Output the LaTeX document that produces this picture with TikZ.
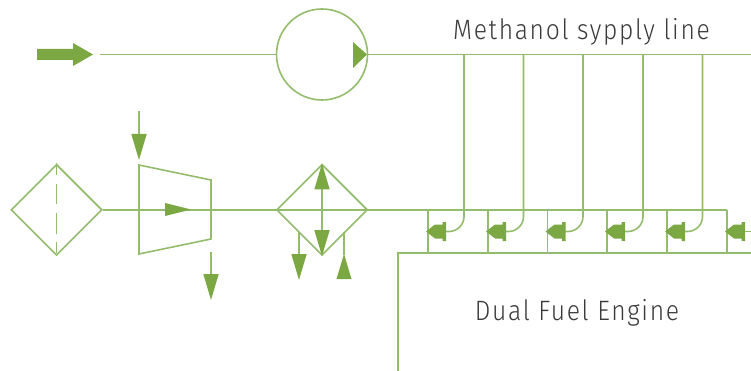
\documentclass[tikz,border=0pt]{standalone}
\usepackage{fontspec}
\usepackage{xcolor}
\setmainfont[LetterSpace=6,FakeStretch=0.88]{Fira Sans Light}
\usetikzlibrary{arrows.meta,shapes.geometric}
\definecolor{pipe}{HTML}{93BC6C}
\definecolor{tipfill}{HTML}{7CA843}
\definecolor{labeltext}{HTML}{3A3A3A}
\tikzset{
	pipeline/.style={draw=pipe,line width=1.6pt},
	flowarrow/.style={pipeline,-{Triangle[length=26pt,width=15pt,fill=tipfill,color=tipfill]}},
	cooler/.style={diamond,draw=pipe,line width=1.6pt,minimum width=91pt,minimum height=91pt,inner sep=0pt,aspect=1},
	pumpcircle/.style={circle,draw=pipe,line width=1.6pt,minimum size=91pt,inner sep=0pt},
	caption/.style={text=labeltext,font=\fontsize{28}{30}\selectfont,inner sep=0pt}
}
\begin{document}
\begin{tikzpicture}[x=1pt,y=-1pt]
	\useasboundingbox (0,0) rectangle (751,371);

	\node[cooler] (filter) at (56.5,209.8) {};
	\node[cooler] (exchanger) at (322,209.8) {};
	\node[pumpcircle] (pump) at (322,54.5) {};
	\node[caption] (supplylabel) at (581.5,32) {Methanol sypply line};
	\node[caption] (enginelabel) at (577,313) {Dual Fuel Engine};

	\coordinate (inlet) at (100,54.5);
	\coordinate (supplyend) at (751,54.5);
	\coordinate (railend) at (727,209.8);
	\coordinate (blockleft) at (398,253);
	\coordinate (blockright) at (751,253);
	\coordinate (blockbottom) at (398,371);

	% supply arrow and lines
	\fill[tipfill] (37,49) -- (73,49) -- (73,43) -- (93,54.5) -- (73,66) -- (73,60) -- (37,60) -- cycle;
	\draw[pipeline] (inlet) -- (pump.west);
	\draw[pipeline] (pump.east) -- (supplyend);
	\fill[tipfill] (353,42) -- (367,54.5) -- (353,68) -- cycle;

	% compressor
	\coordinate (compA) at (139,165);
	\coordinate (compB) at (211,180);
	\coordinate (compC) at (211,239);
	\coordinate (compD) at (139,254);
	\draw[pipeline] (compA) -- (compB) -- (compC) -- (compD) -- cycle;
	\draw[pipeline] (filter.east) -- (exchanger.west);
	\draw[pipeline] (exchanger.west) -- (exchanger.east);
	\draw[pipeline] (exchanger.east) -- (railend);
	\fill[tipfill] (165,203) -- (191,209.5) -- (165,216) -- cycle;
	\draw[pipeline,dash pattern=on 12pt off 9pt on 20pt off 9pt on 20pt off 8pt on 11pt] (filter.north) -- (filter.south);

	\coordinate (compin) at (139,111);
	\coordinate (compintip) at (139,160);
	\coordinate (compout) at (211,252);
	\coordinate (compouttip) at (211,300);
	\draw[flowarrow] (compin) -- (compintip);
	\draw[flowarrow] (compout) -- (compouttip);

	% exchanger arrows
	\draw[flowarrow] (exchanger.center) -- (exchanger.north);
	\draw[flowarrow] (exchanger.center) -- (exchanger.south);
	\coordinate (coolout) at (299,232);
	\coordinate (cooloutip) at (299,280);
	\coordinate (coolin) at (344,232);
	\coordinate (coolintip) at (344,279);
	\draw[flowarrow] (coolout) -- (cooloutip);
	\draw[pipeline] (coolin) -- (344,255);
	\fill[tipfill] (336.5,279) -- (344,254) -- (351.5,279) -- cycle;

	% engine block
	\draw[pipeline] (blockright) -- (blockleft) -- (blockbottom);

	% fuel branches
	\foreach \n/\x in {1/464,2/523.5,3/583,4/643,5/702.5}{
		\coordinate (tap\n) at (\x,54.5);
		\draw[pipeline,rounded corners=15pt] (tap\n) -- (\x,231.5) -- (\x-18,231.5);
	}
	\coordinate (lastvalve) at (745,231.5);
	\coordinate (lastend) at (751,231.5);
	\draw[pipeline] (lastvalve) -- (lastend);

	% injection valves
	\foreach \n/\x in {1/428,2/488,3/547.5,4/607,5/667,6/727}{
		\coordinate (rail\n) at (\x,209.8);
		\coordinate (foot\n) at (\x,253);
		\draw[pipeline] (rail\n) -- (foot\n);
		\fill[tipfill] (\x-2,231.5) -- (\x+7,224.5) -- (\x+14.5,224.5) -- (\x+14.5,222) -- (\x+18,222) -- (\x+18,241) -- (\x+14.5,241) -- (\x+14.5,238.5) -- (\x+7,238.5) -- cycle;
	}
\end{tikzpicture}
\end{document}
